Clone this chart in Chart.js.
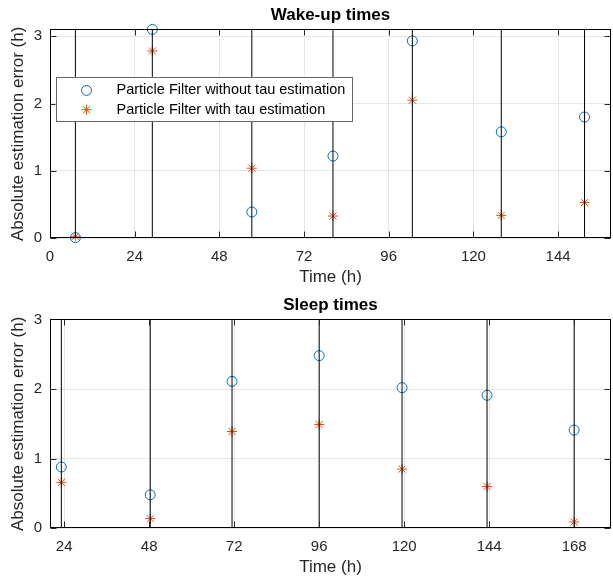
<!DOCTYPE html>
<html>
  <head>
    <script src="https://cdn.jsdelivr.net/npm/chart.js"></script>
    <style>
      body { margin: 0; background: #fff; }
      .panel { width: 613px; height: 290px; }
    </style>
  </head>
  <body>
    <div class="panel"><canvas id="wakeChart" width="613" height="290"></canvas></div>
    <div class="panel"><canvas id="sleepChart" width="613" height="290"></canvas></div>

    <script>
      // wake-up panel
      const wakeTimes = [7.2, 29.0, 57.2, 80.2, 102.7, 127.9, 151.5];
      const wakeNoTau = [0.01, 3.10, 0.39, 1.22, 2.93, 1.58, 1.80];
      const wakeTau = [0.03, 2.78, 1.04, 0.33, 2.05, 0.34, 0.53];
      const wakeTicks = [0, 24, 48, 72, 96, 120, 144];

      // sleep panel
      const sleepTimes = [23.2, 48.3, 71.4, 96.0, 119.4, 143.4, 168.0];
      const sleepNoTau = [0.88, 0.48, 2.11, 2.48, 2.02, 1.91, 1.41];
      const sleepTau = [0.66, 0.14, 1.39, 1.49, 0.85, 0.60, 0.09];
      const sleepTicks = [24, 48, 72, 96, 120, 144, 168];

      const yTicks = [0, 1, 2, 3];
      const labelNoTau = 'Particle Filter without tau estimation';
      const labelTau = 'Particle Filter with tau estimation';

      const FONT = "'Liberation Sans', Arial, Helvetica, sans-serif";
      const BLUE = '#0072BD';
      const ORANGE = '#D95319';

      function drawMarker(ctx, style, color, x, y) {
        ctx.save();
        ctx.strokeStyle = color;
        ctx.lineWidth = 1;
        ctx.beginPath();
        if (style === 'circle') {
          ctx.arc(x, y, 5, 0, Math.PI * 2);
        } else {
          const r = 5, d = r * Math.SQRT1_2;
          ctx.moveTo(x - r, y); ctx.lineTo(x + r, y);
          ctx.moveTo(x, y - r); ctx.lineTo(x, y + r);
          ctx.moveTo(x - d, y - d); ctx.lineTo(x + d, y + d);
          ctx.moveTo(x - d, y + d); ctx.lineTo(x + d, y - d);
        }
        ctx.stroke();
        ctx.restore();
      }

      // box around the axes plus matlab-style inward ticks, and the inset legend
      const axesDecor = {
        id: 'axesDecor',
        afterDraw(chart, args, opts) {
          const ctx = chart.ctx;
          const a = chart.chartArea;
          const L = Math.round(a.left) + 0.5, R = Math.round(a.right) - 0.5;
          const T = Math.round(a.top) + 0.5, B = Math.round(a.bottom) - 0.5;
          ctx.save();
          ctx.strokeStyle = '#262626';
          ctx.lineWidth = 1;
          ctx.beginPath();
          chart.scales.x.ticks.forEach(t => {
            const px = Math.round(chart.scales.x.getPixelForValue(t.value)) + 0.5;
            ctx.moveTo(px, B); ctx.lineTo(px, B - 6);
            ctx.moveTo(px, T); ctx.lineTo(px, T + 6);
          });
          chart.scales.y.ticks.forEach(t => {
            const py = Math.round(chart.scales.y.getPixelForValue(t.value)) + 0.5;
            ctx.moveTo(L, py); ctx.lineTo(L + 6, py);
            ctx.moveTo(R, py); ctx.lineTo(R - 6, py);
          });
          ctx.stroke();
          ctx.strokeStyle = '#000';
          ctx.strokeRect(L, T, R - L, B - T);

          if (opts.legend) {
            const lx = a.left + 5.5, ly = a.top + 47.5, lw = 296, lh = 44;
            ctx.fillStyle = '#fff';
            ctx.fillRect(lx, ly, lw, lh);
            ctx.strokeStyle = '#666';
            ctx.strokeRect(Math.round(lx) + 0.5, Math.round(ly) + 0.5, lw, lh);
            ctx.font = '14.5px ' + FONT;
            ctx.fillStyle = '#000';
            ctx.textBaseline = 'middle';
            ctx.textAlign = 'left';
            const rows = [
              { style: 'circle', color: BLUE, text: labelNoTau },
              { style: 'star', color: ORANGE, text: labelTau }
            ];
            rows.forEach((r, i) => {
              const y = ly + 13.5 + i * 19.3;
              drawMarker(ctx, r.style, r.color, lx + 31, y);
              ctx.fillText(r.text, lx + 61, y);
            });
          }
          ctx.restore();
        }
      };

      function makeChart(id, title, times, noTau, tau, xMin, xMax, xTicks, yMax, legend) {
        const stems = times.flatMap(t => [{ x: t, y: 0 }, { x: t, y: yMax }, { x: t, y: null }]);
        new Chart(document.getElementById(id), {
          type: 'scatter',
          data: {
            datasets: [
              {
                label: 'events',
                type: 'line',
                data: stems,
                borderColor: '#000',
                borderWidth: 1,
                pointRadius: 0,
                spanGaps: false,
                order: 0
              },
              {
                label: labelTau,
                data: times.map((t, i) => ({ x: t, y: tau[i] })),
                pointStyle: 'star',
                pointRadius: 5,
                borderColor: ORANGE,
                backgroundColor: ORANGE,
                pointBorderWidth: 1,
                clip: false,
                order: 1
              },
              {
                label: labelNoTau,
                data: times.map((t, i) => ({ x: t, y: noTau[i] })),
                pointStyle: 'circle',
                pointRadius: 5,
                borderColor: BLUE,
                backgroundColor: 'rgba(0,0,0,0)',
                pointBorderWidth: 1,
                clip: false,
                order: 2
              }
            ]
          },
          options: {
            responsive: false,
            animation: false,
            layout: { autoPadding: false, padding: { left: 0, right: 2, top: 0, bottom: 0 } },
            plugins: {
              legend: { display: false },
              tooltip: { enabled: false },
              title: {
                display: true,
                text: title,
                fullSize: false,
                color: '#000',
                font: { family: FONT, size: 17, weight: 'bold' },
                padding: { top: 5, bottom: 4 }
              },
              axesDecor: { legend: legend }
            },
            scales: {
              x: {
                type: 'linear',
                min: xMin,
                max: xMax,
                afterBuildTicks: s => { s.ticks = xTicks.map(v => ({ value: v })); },
                afterFit: s => { s.height = 51.7; s.paddingLeft = 0; s.paddingRight = 0; },
                grid: { color: '#e6e6e6', drawTicks: false },
                border: { display: false },
                ticks: {
                  color: '#262626',
                  padding: 10,
                  maxRotation: 0,
                  font: { family: FONT, size: 15 }
                },
                title: {
                  display: true,
                  text: 'Time (h)',
                  color: '#262626',
                  font: { family: FONT, size: 17 },
                  padding: { top: 0, bottom: 2 }
                }
              },
              y: {
                min: 0,
                max: yMax,
                afterBuildTicks: s => { s.ticks = yTicks.map(v => ({ value: v })); },
                afterFit: s => { s.width = 50; },
                grid: { color: '#e6e6e6', drawTicks: false },
                border: { display: false },
                ticks: {
                  color: '#262626',
                  padding: 8,
                  font: { family: FONT, size: 15 }
                },
                title: {
                  display: true,
                  text: 'Absolute estimation error (h)',
                  color: '#262626',
                  font: { family: FONT, size: 17 },
                  padding: { top: 8, bottom: 0 }
                }
              }
            }
          },
          plugins: [axesDecor]
        });
      }

      makeChart('wakeChart', 'Wake-up times', wakeTimes, wakeNoTau, wakeTau, 0, 159, wakeTicks, 3.1, true);
      makeChart('sleepChart', 'Sleep times', sleepTimes, sleepNoTau, sleepTau, 20, 178.4, sleepTicks, 3, false);
    </script>
  </body>
</html>
